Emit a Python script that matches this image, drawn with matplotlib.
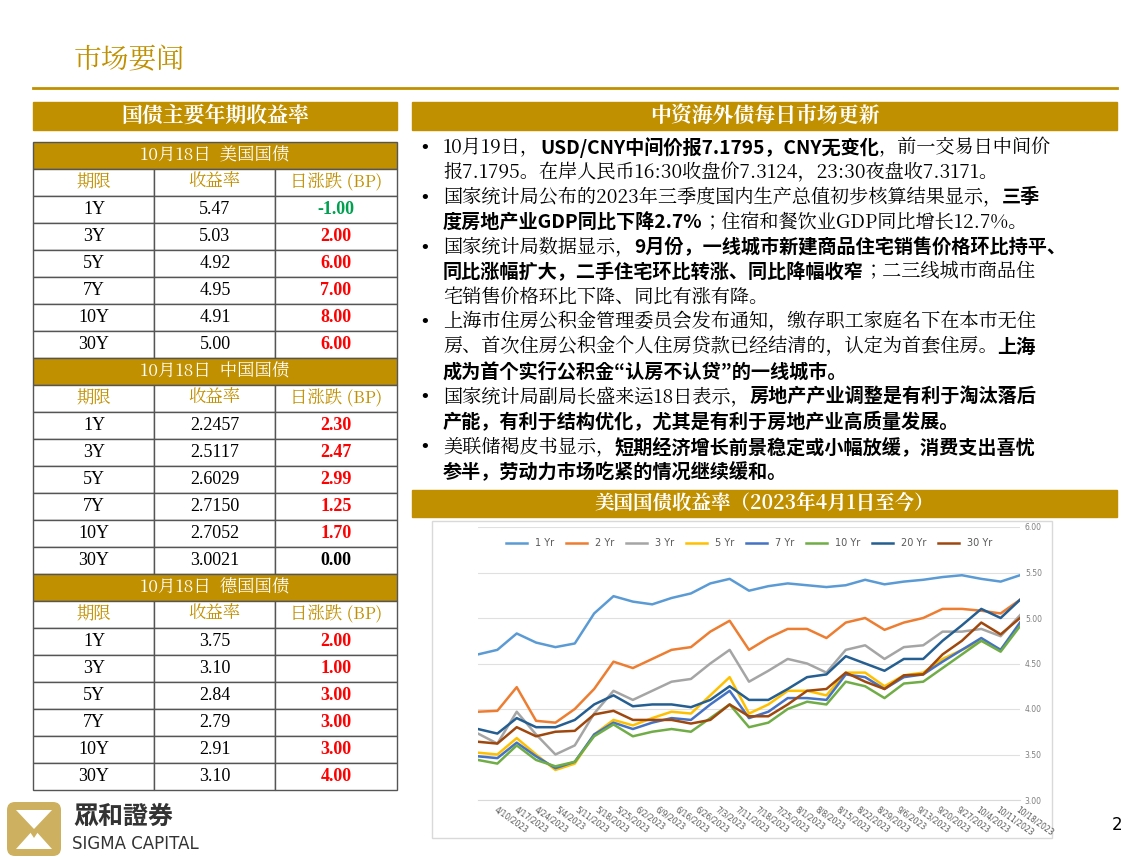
import matplotlib

matplotlib.use("Agg")
import matplotlib.pyplot as plt
import numpy as np
from matplotlib.patches import Rectangle, FancyBboxPatch, Polygon

SERIF = "Noto Serif CJK JP"
SANS = "Noto Sans CJK JP"
plt.rcParams["font.family"] = [SERIF, "DejaVu Sans"]

W, H = 1144, 861
GOLD = "#C09000"

# ---- 表格数据 ----
tenors = ["1Y", "3Y", "5Y", "7Y", "10Y", "30Y"]
sections = ["10月18日  美国国债", "10月18日  中国国债", "10月18日  德国国债"]
us_yield = ["5.47", "5.03", "4.92", "4.95", "4.91", "5.00"]
us_chg = [-1.00, 2.00, 6.00, 7.00, 8.00, 6.00]
cn_yield = ["2.2457", "2.5117", "2.6029", "2.7150", "2.7052", "3.0021"]
cn_chg = [2.30, 2.47, 2.99, 1.25, 1.70, 0.00]
de_yield = ["3.75", "3.10", "2.84", "2.79", "2.91", "3.10"]
de_chg = [2.00, 1.00, 3.00, 3.00, 3.00, 4.00]

# ---- 美债收益率曲线 (周度读数) ----
series_names = ["1 Yr", "2 Yr", "3 Yr", "5 Yr", "7 Yr", "10 Yr", "20 Yr", "30 Yr"]
series_colors = ["#5B9BD5", "#ED7D31", "#A5A5A5", "#FFC000", "#4472C4", "#70AD47", "#255E91", "#9E480E"]
y1 = [4.60, 4.65, 4.83, 4.73, 4.68, 4.72, 5.05, 5.24, 5.18, 5.15, 5.22, 5.27, 5.38, 5.43, 5.30,
      5.35, 5.38, 5.36, 5.34, 5.36, 5.42, 5.37, 5.40, 5.42, 5.45, 5.47, 5.43, 5.40, 5.47]
y2 = [3.97, 3.98, 4.24, 3.87, 3.85, 4.00, 4.22, 4.52, 4.45, 4.55, 4.65, 4.68, 4.85, 4.97, 4.65,
      4.78, 4.88, 4.88, 4.78, 4.95, 5.00, 4.87, 4.95, 5.00, 5.10, 5.10, 5.08, 5.05, 5.20]
y3 = [3.73, 3.62, 3.97, 3.72, 3.50, 3.60, 3.95, 4.20, 4.10, 4.20, 4.30, 4.33, 4.50, 4.65, 4.30,
      4.42, 4.55, 4.50, 4.40, 4.65, 4.70, 4.55, 4.68, 4.70, 4.85, 4.85, 4.88, 4.80, 5.03]
y5 = [3.52, 3.50, 3.68, 3.50, 3.33, 3.40, 3.72, 3.88, 3.82, 3.90, 3.97, 3.95, 4.15, 4.35, 3.95,
      4.05, 4.20, 4.20, 4.15, 4.40, 4.40, 4.25, 4.37, 4.40, 4.55, 4.65, 4.75, 4.65, 4.92]
y7 = [3.48, 3.46, 3.63, 3.48, 3.35, 3.42, 3.72, 3.85, 3.78, 3.85, 3.90, 3.88, 4.05, 4.20, 3.90,
      3.97, 4.12, 4.12, 4.10, 4.38, 4.35, 4.22, 4.35, 4.38, 4.52, 4.65, 4.78, 4.65, 4.95]
y10 = [3.44, 3.40, 3.60, 3.44, 3.37, 3.42, 3.70, 3.83, 3.70, 3.75, 3.78, 3.75, 3.90, 4.05, 3.80,
       3.85, 4.00, 4.08, 4.05, 4.30, 4.25, 4.12, 4.28, 4.30, 4.45, 4.60, 4.75, 4.63, 4.91]
y20 = [3.78, 3.73, 3.90, 3.80, 3.80, 3.88, 4.05, 4.15, 4.03, 4.05, 4.05, 4.02, 4.10, 4.25, 4.10,
       4.10, 4.22, 4.35, 4.38, 4.58, 4.50, 4.42, 4.55, 4.55, 4.75, 4.92, 5.10, 5.00, 5.20]
y30 = [3.64, 3.62, 3.80, 3.70, 3.75, 3.76, 3.94, 3.98, 3.88, 3.88, 3.88, 3.84, 3.88, 4.05, 3.92,
       3.92, 4.05, 4.20, 4.22, 4.40, 4.30, 4.22, 4.37, 4.38, 4.60, 4.75, 4.95, 4.82, 5.00]
date_labels = ["4/10/2023", "4/17/2023", "4/24/2023", "5/4/2023", "5/11/2023", "5/18/2023",
               "5/25/2023", "6/2/2023", "6/9/2023", "6/16/2023", "6/26/2023", "7/3/2023",
               "7/11/2023", "7/18/2023", "7/25/2023", "8/1/2023", "8/8/2023", "8/15/2023",
               "8/22/2023", "8/29/2023", "9/6/2023", "9/13/2023", "9/20/2023", "9/27/2023",
               "10/4/2023", "10/11/2023", "10/18/2023"]

fig = plt.figure(figsize=(W / 100, H / 100), dpi=100)
bg = fig.add_axes([0, 0, 1, 1])
bg.set_xlim(0, W); bg.set_ylim(H, 0); bg.axis("off")
R = fig.canvas.get_renderer()

# 页眉
bg.text(74, 60, "市场要闻", fontsize=20, color=GOLD, va="center")
bg.plot([33, 1117], [88, 88], color=GOLD, lw=2)


def bar(x0, x1, y0, y1_, label, fs=14):
    bg.add_patch(Rectangle((x0, y0), x1 - x0, y1_ - y0, fc=GOLD, ec=GOLD))
    bg.text((x0 + x1) / 2, (y0 + y1_) / 2, label, color="white", fontsize=fs,
            fontweight="bold", ha="center", va="center")


bar(33, 397, 102, 130, "国债主要年期收益率", fs=15)
bar(412, 1117, 102, 130, "中资海外债每日市场更新", fs=15)
bar(412, 1117, 490, 517, "美国国债收益率（2023年4月1日至今）", fs=14)

# 左侧表格
cols = [33, 154, 275, 397]
rh = 27
top = 142
blocks = [(us_yield, us_chg), (cn_yield, cn_chg), (de_yield, de_chg)]
r = 0
for si, (yl, ch) in enumerate(blocks):
    y = top + r * rh
    bg.add_patch(Rectangle((33, y), 364, rh, fc=GOLD, ec="#555555", lw=1))
    bg.text(215, y + rh / 2, sections[si], color="white", fontsize=12.5, ha="center", va="center")
    r += 1
    y = top + r * rh
    for ci, h in enumerate(["期限", "收益率", "日涨跌 (BP)"]):
        bg.add_patch(Rectangle((cols[ci], y), cols[ci + 1] - cols[ci], rh, fc="white", ec="#555555", lw=1))
        bg.text((cols[ci] + cols[ci + 1]) / 2, y + rh / 2, h, color=GOLD, fontsize=12.5,
                ha="center", va="center")
    r += 1
    for t, yv, c in zip(tenors, yl, ch):
        y = top + r * rh
        for ci in range(3):
            bg.add_patch(Rectangle((cols[ci], y), cols[ci + 1] - cols[ci], rh, fc="white",
                                   ec="#555555", lw=1))
        bg.text(94, y + rh / 2, t, fontsize=13, ha="center", va="center",
                family="Liberation Serif")
        bg.text(215, y + rh / 2, yv, fontsize=13, ha="center", va="center",
                family="Liberation Serif")
        col = "#00A050" if c < 0 else ("red" if c > 0 else "black")
        bg.text(336, y + rh / 2, f"{c:.2f}", fontsize=13, ha="center", va="center",
                color=col, fontweight="bold", family="Liberation Serif")
        r += 1

# 右侧要闻
N, B = "n", "b"
bullets = [
    [[("10月19日，", N), ("USD/CNY中间价报7.1795，CNY无变化", B), ("，前一交易日中间价", N)],
     [("报7.1795。在岸人民币16:30收盘价7.3124，23:30夜盘收7.3171。", N)]],
    [[("国家统计局公布的2023年三季度国内生产总值初步核算结果显示，", N), ("三季", B)],
     [("度房地产业GDP同比下降2.7%", B), ("；住宿和餐饮业GDP同比增长12.7%。", N)]],
    [[("国家统计局数据显示，", N), ("9月份，一线城市新建商品住宅销售价格环比持平、", B)],
     [("同比涨幅扩大，二手住宅环比转涨、同比降幅收窄", B), ("；二三线城市商品住", N)],
     [("宅销售价格环比下降、同比有涨有降。", N)]],
    [[("上海市住房公积金管理委员会发布通知，缴存职工家庭名下在本市无住", N)],
     [("房、首次住房公积金个人住房贷款已经结清的，认定为首套住房。", N), ("上海", B)],
     [("成为首个实行公积金“认房不认贷”的一线城市。", B)]],
    [[("国家统计局副局长盛来运18日表示，", N), ("房地产产业调整是有利于淘汰落后", B)],
     [("产能，有利于结构优化，尤其是有利于房地产业高质量发展。", B)]],
    [[("美联储褐皮书显示，", N), ("短期经济增长前景稳定或小幅放缓，消费支出喜忧", B)],
     [("参半，劳动力市场吃紧的情况继续缓和。", B)]],
]
ly = 148
for lines in bullets:
    bg.text(425, ly, "•", fontsize=13, va="center", ha="center", family="DejaVu Sans")
    for line in lines:
        x = 443
        for s, w in line:
            if w == B:
                t = bg.text(x, ly, s, fontsize=13.8, va="center", fontweight="bold", family=SANS)
            else:
                t = bg.text(x, ly, s, fontsize=13.8, va="center", family=SERIF)
            x += t.get_window_extent(renderer=R).width
        ly += 24.9

# 美债收益率图
bg.add_patch(Rectangle((432, 521), 620, 317, fc="white", ec="#D9D9D9", lw=1))
ax = fig.add_axes([478 / W, 1 - 800 / H, (1020 - 478) / W, (800 - 527) / H])
xs = np.arange(len(y1))
for name, c, ys in zip(series_names, series_colors, [y1, y2, y3, y5, y7, y10, y20, y30]):
    ax.plot(xs, ys, color=c, lw=1.8, label=name)
ax.set_xlim(0, xs[-1]); ax.set_ylim(3.0, 6.0)
ax.yaxis.tick_right()
ax.set_yticks(np.arange(3.0, 6.01, 0.5))
ax.set_yticklabels([f"{v:.2f}" for v in np.arange(3.0, 6.01, 0.5)], fontsize=5.5, color="#7F7F7F",
                   family="DejaVu Sans")
ax.set_xticks(np.arange(1, len(date_labels) + 1) * xs[-1] / len(date_labels))
ax.set_xticklabels(date_labels, rotation=-35, ha="left", rotation_mode="anchor",
                   fontsize=5.5, color="#595959", family="DejaVu Sans")
ax.grid(axis="y", color="#E0E0E0", lw=0.8)
for s in ax.spines.values():
    s.set_visible(False)
ax.spines["bottom"].set_visible(True); ax.spines["bottom"].set_color("#D9D9D9")
ax.tick_params(length=0)
ax.legend(loc="upper center", ncol=8, frameon=False, bbox_to_anchor=(0.5, 0.99),
          handlelength=2.2, columnspacing=1.2, labelcolor="#595959",
          prop={"family": "DejaVu Sans", "size": 7})

# 页脚 logo
bg.add_patch(FancyBboxPatch((7, 802), 54, 54, boxstyle="round,pad=0,rounding_size=8",
                            fc="#CDB160", ec="none"))
bg.add_patch(Polygon([[16, 810], [52, 810], [34, 829]], fc="white", ec="none"))
bg.add_patch(Polygon([[16, 849], [52, 849], [34, 829]], fc="white", ec="none"))
bg.add_patch(Polygon([[28, 829], [40, 829], [34, 838]], fc="#CDB160", ec="none"))
bg.text(73, 817, "眾和證券", fontsize=18, fontweight="bold", color="#333333", va="center",
        family=SANS)
bg.text(72, 844, "SIGMA CAPITAL", fontsize=12, color="#333333", va="center", family="DejaVu Sans")
bg.text(1117, 825, "2", fontsize=12, va="center", ha="center", family="DejaVu Sans")

fig.savefig("out.png", dpi=100)
